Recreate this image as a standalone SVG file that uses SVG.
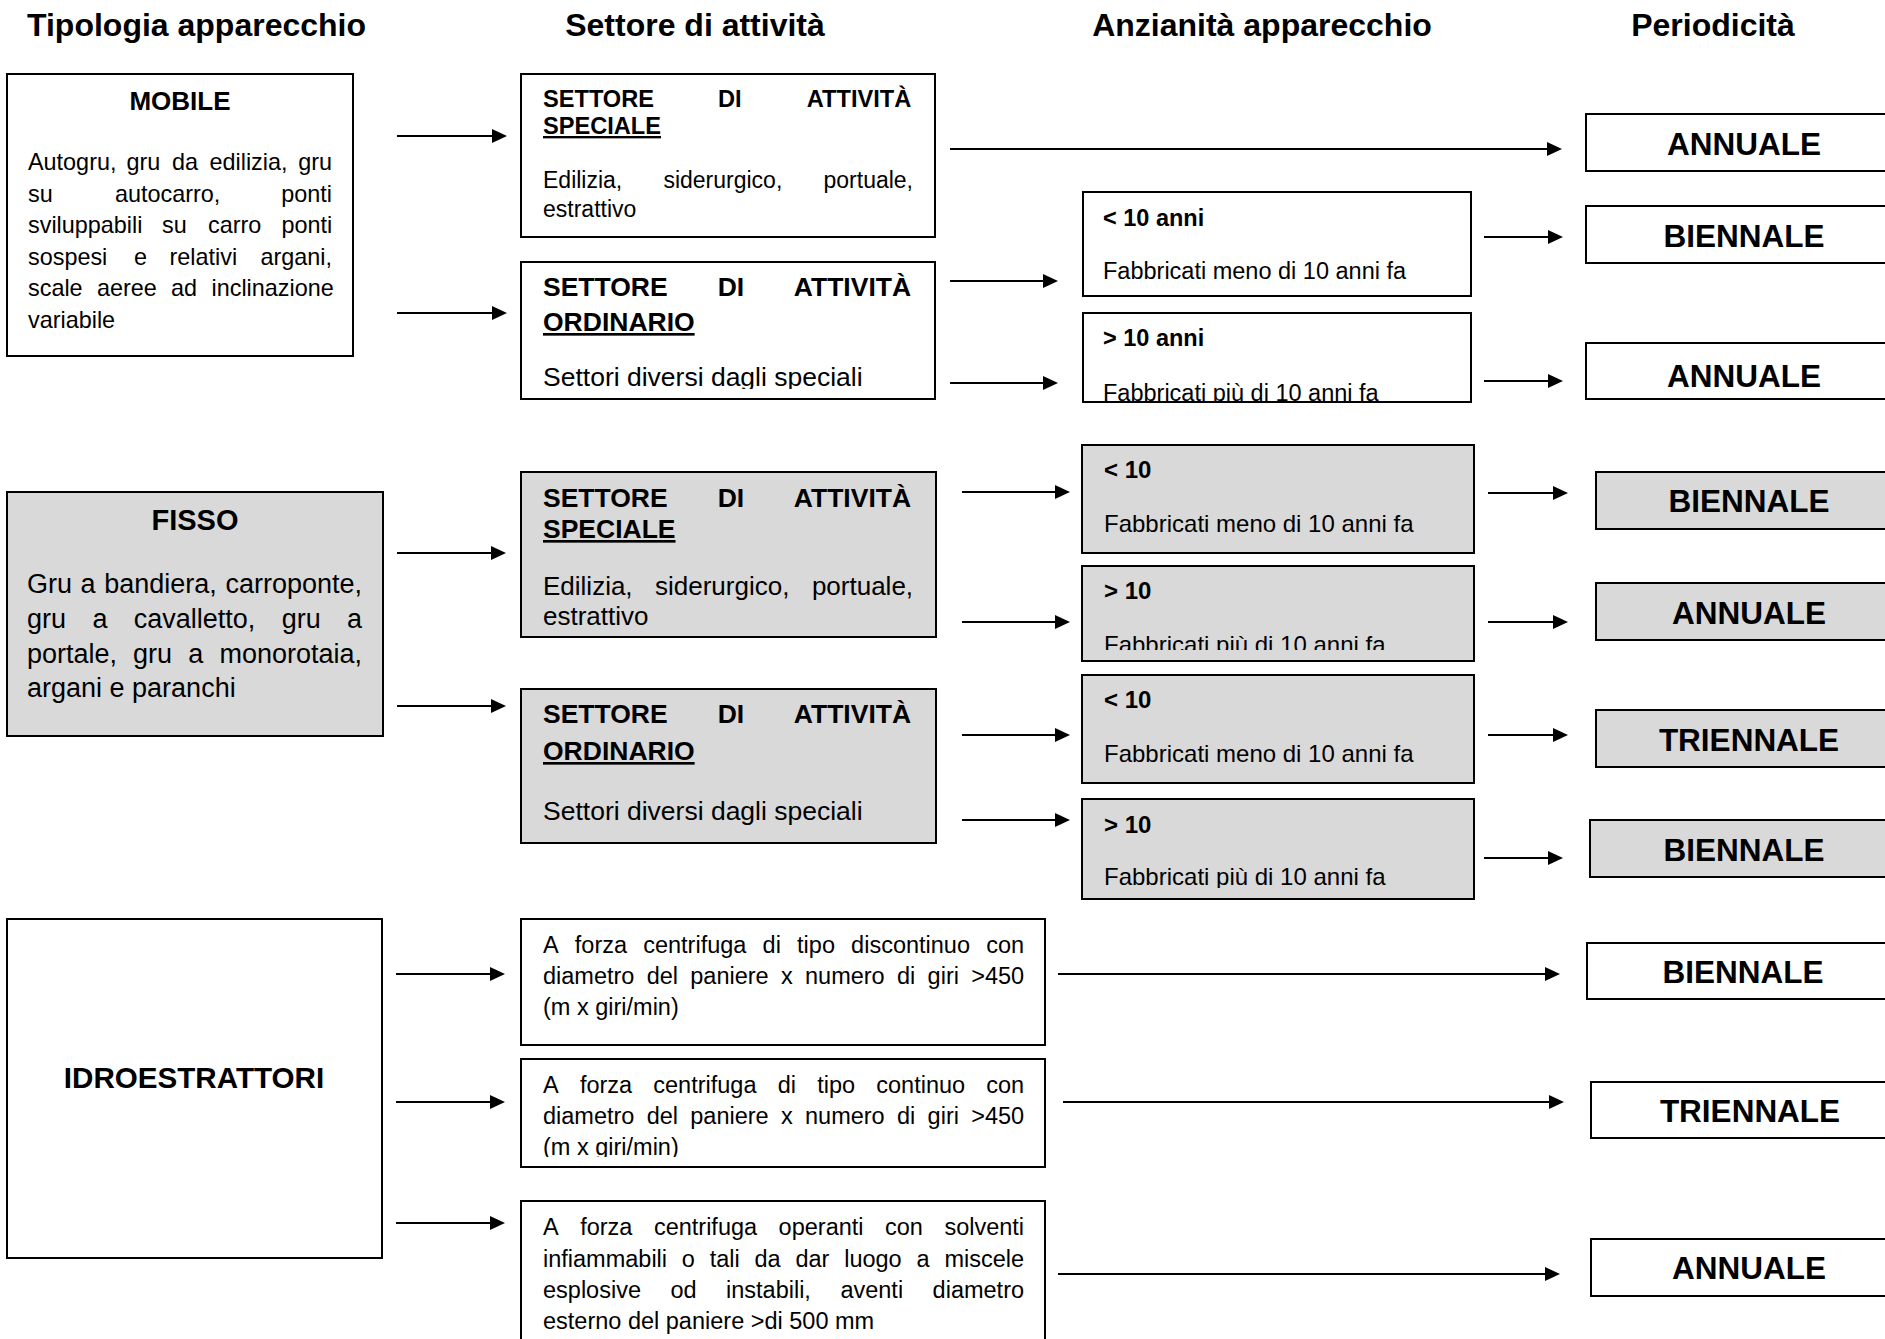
<svg xmlns="http://www.w3.org/2000/svg" width="1885" height="1339" viewBox="0 0 1885 1339">
<style>
text{font-family:"Liberation Sans",Arial,Helvetica,sans-serif;fill:#000}
.h{font-size:32px;font-weight:bold}
.b{font-weight:bold}
.u{text-decoration:underline}
.box{fill:#fff;stroke:#000;stroke-width:2}
.gray{fill:#d9d9d9}
.per{font-size:31.5px;font-weight:bold;text-anchor:middle}
.conn line{stroke:#000;stroke-width:2;marker-end:url(#ah)}
</style>
<defs>
<marker id="ah" markerUnits="userSpaceOnUse" markerWidth="15" markerHeight="14" refX="11" refY="7" orient="auto"><path d="M0,0 L15,7 L0,14 z" fill="#000"/></marker>
<clipPath id="c1"><rect x="521" y="262" width="414" height="127"/></clipPath>
<clipPath id="c2"><rect x="1083" y="313" width="388" height="88"/></clipPath>
<clipPath id="c3"><rect x="1082" y="566" width="392" height="84"/></clipPath>
<clipPath id="c4"><rect x="1082" y="799" width="392" height="89"/></clipPath>
<clipPath id="c5"><rect x="521" y="1059" width="524" height="98"/></clipPath>
</defs>
<rect width="1885" height="1339" fill="#fff"/>

<g id="headers">
<text class="h" x="196.5" y="36" text-anchor="middle">Tipologia apparecchio</text>
<text class="h" x="695" y="36" text-anchor="middle">Settore di attività</text>
<text class="h" x="1262" y="36" text-anchor="middle">Anzianità apparecchio</text>
<text class="h" x="1713" y="36" text-anchor="middle">Periodicità</text>
</g>

<!-- MOBILE section -->
<g id="mobile">
<rect class="box" x="7" y="74" width="346" height="282"/>
<text class="b" x="180" y="110" font-size="26" text-anchor="middle">MOBILE</text>
<text font-size="23.4"><tspan x="28" y="170">Autogru,</tspan><tspan x="126.5" y="170">gru</tspan><tspan x="172" y="170">da</tspan><tspan x="209.5" y="170">edilizia,</tspan><tspan x="298.2" y="170">gru</tspan></text>
<text font-size="23.4"><tspan x="28" y="201.5">su</tspan><tspan x="115" y="201.5">autocarro,</tspan><tspan x="281.3" y="201.5">ponti</tspan></text>
<text font-size="23.4"><tspan x="28" y="233">sviluppabili</tspan><tspan x="162" y="233">su</tspan><tspan x="208" y="233">carro</tspan><tspan x="281.4" y="233">ponti</tspan></text>
<text font-size="23.4"><tspan x="28" y="264.5">sospesi</tspan><tspan x="134" y="264.5">e</tspan><tspan x="169.5" y="264.5">relativi</tspan><tspan x="260.5" y="264.5">argani,</tspan></text>
<text font-size="23.4"><tspan x="28" y="296">scale</tspan><tspan x="97" y="296">aeree</tspan><tspan x="171" y="296">ad</tspan><tspan x="211.5" y="296">inclinazione</tspan></text>
<text font-size="23.4" x="28" y="327.5">variabile</text>
</g>

<g id="speciale-mobile">
<rect class="box" x="521" y="74" width="414" height="163"/>
<text class="b" font-size="23.6"><tspan x="543" y="107">SETTORE</tspan><tspan x="718" y="107">DI</tspan><tspan x="806.8" y="107">ATTIVITÀ</tspan></text>
<text class="b u" font-size="23.6" x="543" y="134">SPECIALE</text>
<text font-size="23"><tspan x="543" y="188">Edilizia,</tspan><tspan x="663.4" y="188">siderurgico,</tspan><tspan x="823.5" y="188">portuale,</tspan></text>
<text font-size="23" x="543" y="216.5">estrattivo</text>
</g>

<g id="ordinario-mobile">
<rect class="box" x="521" y="262" width="414" height="137"/>
<text class="b" font-size="26.5"><tspan x="543" y="296">SETTORE</tspan><tspan x="717.7" y="296">DI</tspan><tspan x="793.8" y="296">ATTIVITÀ</tspan></text>
<text class="b u" font-size="26.5" x="543" y="331">ORDINARIO</text>
<text font-size="26.5" x="543" y="386" clip-path="url(#c1)">Settori diversi dagli speciali</text>
</g>

<g id="anz-mobile-lt10">
<rect class="box" x="1083" y="192" width="388" height="104"/>
<text class="b" font-size="23.5" x="1103" y="226">&lt; 10 anni</text>
<text font-size="23.5" x="1103" y="279">Fabbricati meno di 10 anni fa</text>
</g>

<g id="anz-mobile-gt10">
<rect class="box" x="1083" y="313" width="388" height="89"/>
<text class="b" font-size="23.5" x="1103" y="346">&gt; 10 anni</text>
<text font-size="23.5" x="1103" y="401" clip-path="url(#c2)">Fabbricati più di 10 anni fa</text>
</g>

<g id="per-m1"><rect class="box" x="1586" y="114" width="400" height="57"/><text class="per" x="1744" y="155">ANNUALE</text></g>
<g id="per-m2"><rect class="box" x="1586" y="206" width="400" height="57"/><text class="per" x="1744" y="247">BIENNALE</text></g>
<g id="per-m3"><rect class="box" x="1586" y="343" width="400" height="56"/><text class="per" x="1744" y="387">ANNUALE</text></g>

<!-- FISSO section -->
<g id="fisso">
<rect class="box gray" x="7" y="492" width="376" height="244"/>
<text class="b" font-size="29" x="195" y="530" text-anchor="middle">FISSO</text>
<text font-size="27"><tspan x="27" y="593.3">Gru</tspan><tspan x="80.6" y="593.3">a</tspan><tspan x="104.2" y="593.3">bandiera,</tspan><tspan x="225.4" y="593.3">carroponte,</tspan></text>
<text font-size="27"><tspan x="27" y="628.3">gru</tspan><tspan x="92.4" y="628.3">a</tspan><tspan x="133.8" y="628.3">cavalletto,</tspan><tspan x="281.7" y="628.3">gru</tspan><tspan x="347" y="628.3">a</tspan></text>
<text font-size="27"><tspan x="27" y="663.3">portale,</tspan><tspan x="133.1" y="663.3">gru</tspan><tspan x="188.3" y="663.3">a</tspan><tspan x="219.4" y="663.3">monorotaia,</tspan></text>
<text font-size="27" x="27" y="697.3">argani e paranchi</text>
</g>

<g id="speciale-fisso">
<rect class="box gray" x="521" y="472" width="415" height="165"/>
<text class="b" font-size="26.5"><tspan x="543" y="507">SETTORE</tspan><tspan x="717.7" y="507">DI</tspan><tspan x="793.8" y="507">ATTIVITÀ</tspan></text>
<text class="b u" font-size="26.5" x="543" y="538">SPECIALE</text>
<text font-size="26"><tspan x="543" y="595">Edilizia,</tspan><tspan x="655" y="595">siderurgico,</tspan><tspan x="811.9" y="595">portuale,</tspan></text>
<text font-size="26" x="543" y="625">estrattivo</text>
</g>

<g id="ordinario-fisso">
<rect class="box gray" x="521" y="689" width="415" height="154"/>
<text class="b" font-size="26.5"><tspan x="543" y="723">SETTORE</tspan><tspan x="717.7" y="723">DI</tspan><tspan x="793.8" y="723">ATTIVITÀ</tspan></text>
<text class="b u" font-size="26.5" x="543" y="760">ORDINARIO</text>
<text font-size="26.5" x="543" y="820">Settori diversi dagli speciali</text>
</g>

<g id="anz-fisso-s-lt10">
<rect class="box gray" x="1082" y="445" width="392" height="108"/>
<text class="b" font-size="24" x="1104" y="478">&lt; 10</text>
<text font-size="24" x="1104" y="532">Fabbricati meno di 10 anni fa</text>
</g>
<g id="anz-fisso-s-gt10">
<rect class="box gray" x="1082" y="566" width="392" height="95"/>
<text class="b" font-size="24" x="1104" y="599">&gt; 10</text>
<text font-size="24" x="1104" y="653" clip-path="url(#c3)">Fabbricati più di 10 anni fa</text>
</g>
<g id="anz-fisso-o-lt10">
<rect class="box gray" x="1082" y="675" width="392" height="108"/>
<text class="b" font-size="24" x="1104" y="708">&lt; 10</text>
<text font-size="24" x="1104" y="762">Fabbricati meno di 10 anni fa</text>
</g>
<g id="anz-fisso-o-gt10">
<rect class="box gray" x="1082" y="799" width="392" height="100"/>
<text class="b" font-size="24" x="1104" y="833">&gt; 10</text>
<text font-size="24" x="1104" y="885" clip-path="url(#c4)">Fabbricati più di 10 anni fa</text>
</g>

<g id="per-f1"><rect class="box gray" x="1596" y="472" width="400" height="57"/><text class="per" x="1749" y="512">BIENNALE</text></g>
<g id="per-f2"><rect class="box gray" x="1596" y="583" width="400" height="57"/><text class="per" x="1749" y="624">ANNUALE</text></g>
<g id="per-f3"><rect class="box gray" x="1596" y="710" width="400" height="57"/><text class="per" x="1749" y="751">TRIENNALE</text></g>
<g id="per-f4"><rect class="box gray" x="1590" y="820" width="400" height="57"/><text class="per" x="1744" y="861">BIENNALE</text></g>

<!-- IDROESTRATTORI section -->
<g id="idro">
<rect class="box" x="7" y="919" width="375" height="339"/>
<text class="b" font-size="29.6" x="194" y="1088" text-anchor="middle">IDROESTRATTORI</text>
</g>

<g id="idro-discontinuo">
<rect class="box" x="521" y="919" width="524" height="126"/>
<text font-size="23.5"><tspan x="543" y="953">A</tspan><tspan x="574.8" y="953">forza</tspan><tspan x="643.2" y="953">centrifuga</tspan><tspan x="762.6" y="953">di</tspan><tspan x="797.1" y="953">tipo</tspan><tspan x="851.1" y="953">discontinuo</tspan><tspan x="986.2" y="953">con</tspan></text>
<text font-size="23.5"><tspan x="543" y="983.5">diametro</tspan><tspan x="646.7" y="983.5">del</tspan><tspan x="690.3" y="983.5">paniere</tspan><tspan x="781" y="983.5">x</tspan><tspan x="805" y="983.5">numero</tspan><tspan x="897" y="983.5">di</tspan><tspan x="927.6" y="983.5">giri</tspan><tspan x="971.2" y="983.5">&gt;450</tspan></text>
<text font-size="23.5" x="543" y="1015">(m x giri/min)</text>
</g>

<g id="idro-continuo">
<rect class="box" x="521" y="1059" width="524" height="108"/>
<text font-size="23.5"><tspan x="543" y="1093">A</tspan><tspan x="579.9" y="1093">forza</tspan><tspan x="653.3" y="1093">centrifuga</tspan><tspan x="777.7" y="1093">di</tspan><tspan x="817.2" y="1093">tipo</tspan><tspan x="876.3" y="1093">continuo</tspan><tspan x="986.3" y="1093">con</tspan></text>
<text font-size="23.5"><tspan x="543" y="1124">diametro</tspan><tspan x="646.7" y="1124">del</tspan><tspan x="690.3" y="1124">paniere</tspan><tspan x="781" y="1124">x</tspan><tspan x="805" y="1124">numero</tspan><tspan x="897" y="1124">di</tspan><tspan x="927.6" y="1124">giri</tspan><tspan x="971.2" y="1124">&gt;450</tspan></text>
<text font-size="23.5" x="543" y="1155" clip-path="url(#c5)">(m x giri/min)</text>
</g>

<g id="idro-solventi">
<rect class="box" x="521" y="1201" width="524" height="160"/>
<text font-size="23.5"><tspan x="543" y="1235">A</tspan><tspan x="580.2" y="1235">forza</tspan><tspan x="653.9" y="1235">centrifuga</tspan><tspan x="778.6" y="1235">operanti</tspan><tspan x="885" y="1235">con</tspan><tspan x="944.4" y="1235">solventi</tspan></text>
<text font-size="23.5"><tspan x="543" y="1266.5">infiammabili</tspan><tspan x="681.8" y="1266.5">o</tspan><tspan x="709.7" y="1266.5">tali</tspan><tspan x="754.5" y="1266.5">da</tspan><tspan x="795.4" y="1266.5">dar</tspan><tspan x="844.2" y="1266.5">luogo</tspan><tspan x="916.5" y="1266.5">a</tspan><tspan x="944.4" y="1266.5">miscele</tspan></text>
<text font-size="23.5"><tspan x="543" y="1298">esplosive</tspan><tspan x="670.4" y="1298">od</tspan><tspan x="726" y="1298">instabili,</tspan><tspan x="840.4" y="1298">aventi</tspan><tspan x="932.6" y="1298">diametro</tspan></text>
<text font-size="23.5" x="543" y="1329">esterno del paniere &gt;di 500 mm</text>
</g>

<g id="per-i1"><rect class="box" x="1587" y="943" width="400" height="56"/><text class="per" x="1743" y="983">BIENNALE</text></g>
<g id="per-i2"><rect class="box" x="1591" y="1082" width="400" height="56"/><text class="per" x="1750" y="1122">TRIENNALE</text></g>
<g id="per-i3"><rect class="box" x="1591" y="1239" width="400" height="57"/><text class="per" x="1749" y="1279">ANNUALE</text></g>

<g id="connectors" class="conn">
<line x1="397" y1="136" x2="503" y2="136"/>
<line x1="397" y1="313" x2="503" y2="313"/>
<line x1="950" y1="149" x2="1558" y2="149"/>
<line x1="950" y1="281" x2="1054" y2="281"/>
<line x1="950" y1="383" x2="1054" y2="383"/>
<line x1="1484" y1="237" x2="1559" y2="237"/>
<line x1="1484" y1="381" x2="1559" y2="381"/>
<line x1="397" y1="553" x2="502" y2="553"/>
<line x1="397" y1="706" x2="502" y2="706"/>
<line x1="962" y1="492" x2="1066" y2="492"/>
<line x1="962" y1="622" x2="1066" y2="622"/>
<line x1="962" y1="735" x2="1066" y2="735"/>
<line x1="962" y1="820" x2="1066" y2="820"/>
<line x1="1488" y1="493" x2="1564" y2="493"/>
<line x1="1488" y1="622" x2="1564" y2="622"/>
<line x1="1488" y1="735" x2="1564" y2="735"/>
<line x1="1484" y1="858" x2="1559" y2="858"/>
<line x1="396" y1="974" x2="501" y2="974"/>
<line x1="396" y1="1102" x2="501" y2="1102"/>
<line x1="396" y1="1223" x2="501" y2="1223"/>
<line x1="1058" y1="974" x2="1556" y2="974"/>
<line x1="1063" y1="1102" x2="1560" y2="1102"/>
<line x1="1058" y1="1274" x2="1556" y2="1274"/>
</g>
</svg>
